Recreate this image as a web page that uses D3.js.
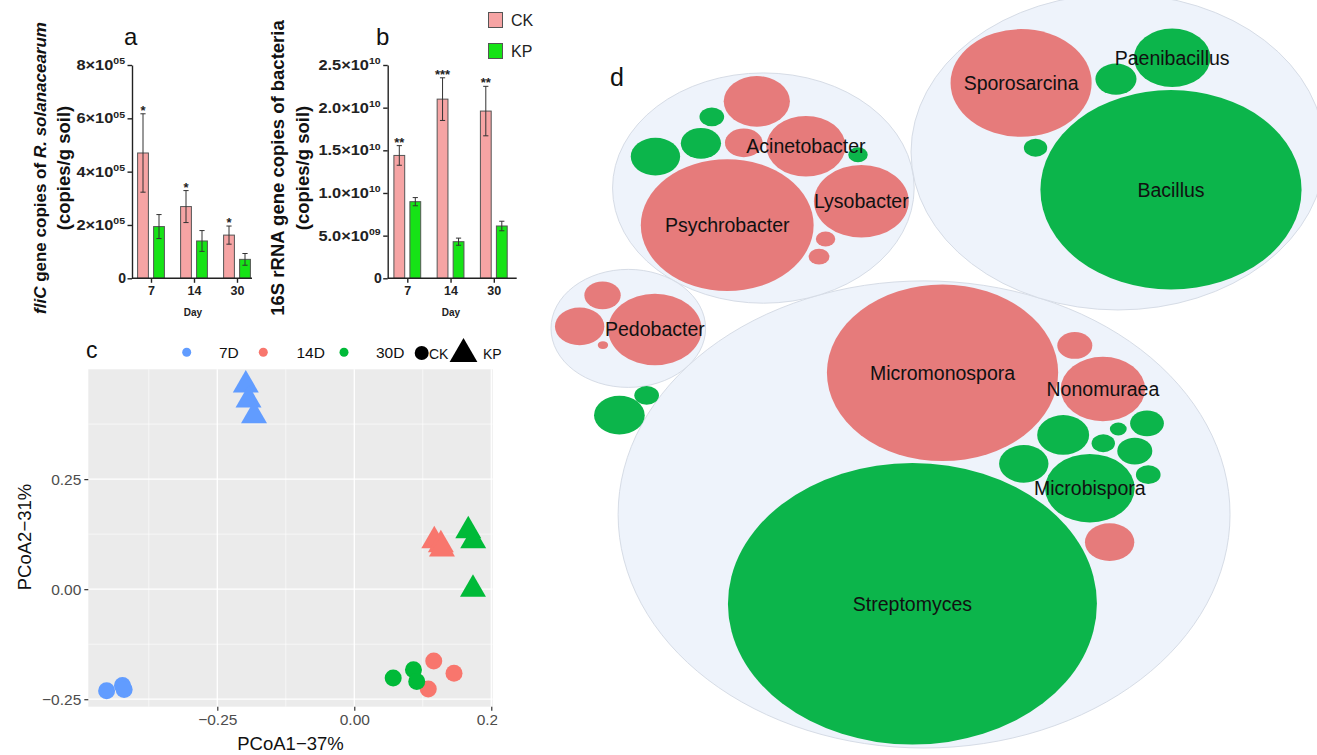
<!DOCTYPE html>
<html>
<head>
<meta charset="utf-8">
<script src="https://cdn.jsdelivr.net/npm/d3@7"></script>
<style>
  body { margin: 0; background: #ffffff; }
  svg { display: block; font-family: "Liberation Sans", Arial, Helvetica, sans-serif; }
</style>
</head>
<body>
<svg id="fig" width="1317" height="755"></svg>
<script>
// ================= data =================
const days = ["7", "14", "30"];

// (a) fliC gene copies of R. solanacearum (copies / g soil)
const fliCCK = [4.70e5, 2.69e5, 1.62e5];
const fliCCKErr = [1.47e5, 0.60e5, 0.34e5];
const fliCKP = [1.94e5, 1.40e5, 0.71e5];
const fliCKPErr = [0.45e5, 0.39e5, 0.22e5];
const fliCSig = ["*", "*", "*"];
const fliCTicks = [0, 2e5, 4e5, 6e5, 8e5];

// (b) 16S rRNA gene copies of bacteria (copies / g soil)
const rrnCK = [1.44e10, 2.10e10, 1.96e10];
const rrnCKErr = [0.115e10, 0.25e10, 0.29e10];
const rrnKP = [0.898e10, 0.429e10, 0.613e10];
const rrnKPErr = [0.048e10, 0.042e10, 0.056e10];
const rrnSig = ["**", "***", "**"];
const rrnTicks = [0, 5e9, 1e10, 1.5e10, 2e10, 2.5e10];

// (c) PCoA of community composition
const pcoaDay = ["7D","7D","7D","7D","7D","7D","14D","14D","14D","14D","14D","14D","30D","30D","30D","30D","30D","30D"];
const pcoaTreat = ["CK","CK","CK","KP","KP","KP","CK","CK","CK","KP","KP","KP","CK","CK","CK","KP","KP","KP"];
const pcoa1 = [-0.452, -0.423, -0.420, -0.198, -0.193, -0.183, 0.145, 0.182, 0.135, 0.146, 0.158, 0.160, 0.071, 0.108, 0.114, 0.208, 0.217, 0.2166];
const pcoa2 = [-0.231, -0.219, -0.228, 0.464, 0.430, 0.394, -0.163, -0.191, -0.227, 0.110, 0.101, 0.091, -0.202, -0.183, -0.210, 0.1325, 0.110, 0.000];
const pcoaTicks = [-0.25, 0, 0.25];

// (d) genera enriched in CK or KP, grouped by phylum (abundance -> bubble area)
const phyla = ["Actinobacteria", "Proteobacteria", "Firmicutes", "Bacteroidetes", "Other 1", "Other 2"];
const actinoGenus = ["", "", "Micromonospora", "Microbispora", "", "Streptomyces", "Nonomuraea", "", "", "", "", "", ""];
const actinoAbund = [4.00, 3.61, 79.21, 11.90, 0.81, 201.64, 10.56, 0.42, 1.82, 1.69, 0.90, 3.61, 1.82];
const actinoEnriched = ["KP","KP","CK","KP","KP","KP","CK","KP","KP","KP","KP","CK","CK"];
const proteoGenus = ["Psychrobacter", "Acinetobacter", "Lysobacter", "", "", "", "", "", "", "", ""];
const proteoAbund = [44.22, 9.30, 13.32, 2.10, 2.40, 0.56, 3.61, 6.50, 0.64, 0.90, 0.56];
const proteoEnriched = ["CK","CK","CK","CK","KP","CK","KP","CK","CK","KP","KP"];
const firmiGenus = ["", "Bacillus", "Sporosarcina", "Paenibacillus", ""];
const firmiAbund = [2.50, 101.00, 29.48, 8.70, 0.81];
const firmiEnriched = ["KP","KP","CK","KP","KP"];
const bacteroGenus = ["Pedobacter", "", "", ""];
const bacteroAbund = [12.96, 3.61, 1.96, 0.16];
const bacteroEnriched = ["CK","CK","CK","CK"];
const other1Genus = [""], other1Abund = [0.90], other1Enriched = ["KP"];
const other2Genus = [""], other2Abund = [3.80], other2Enriched = ["KP"];

// ================= styles / layout =================
const svg = d3.select("#fig");
const treatFill = { CK: "#f6a4a4", KP: "#16e316" };
const dayColor = d3.scaleOrdinal().domain(["7D", "14D", "30D"]).range(["#619CFF", "#F8766D", "#00BA38"]);
const bubbleFill = { CK: "#e67b7b", KP: "#0cb54b" };

function panelLetter(txt, x, y, size) {
  svg.append("text").attr("x", x).attr("y", y).attr("font-size", size).attr("fill", "#111").text(txt);
}

// ---------- bar panels (a, b) ----------
function barPanel(o) {
  const g = svg.append("g");
  const y = d3.scaleLinear().domain([0, o.max]).range([o.yBase, o.yTop]);
  const x = d3.scalePoint().domain(days).range(o.centers);
  const bw = 10.8, gap = 5.2, cap = 2.6;

  const series = [
    { key: "CK", v: o.ck, e: o.ckErr, off: -gap / 2 - bw },
    { key: "KP", v: o.kp, e: o.kpErr, off: gap / 2 }
  ];
  series.forEach(s => {
    g.selectAll(null).data(days).join("rect")
      .attr("x", d => x(d) + s.off)
      .attr("y", (d, i) => y(s.v[i]))
      .attr("width", bw)
      .attr("height", (d, i) => y(0) - y(s.v[i]))
      .attr("fill", treatFill[s.key])
      .attr("stroke", "#555").attr("stroke-width", 1);
    const eb = g.selectAll(null).data(days).join("g").attr("stroke", "#333").attr("stroke-width", 1);
    eb.append("line")
      .attr("x1", d => x(d) + s.off + bw / 2).attr("x2", d => x(d) + s.off + bw / 2)
      .attr("y1", (d, i) => y(s.v[i] + s.e[i])).attr("y2", (d, i) => y(s.v[i] - s.e[i]));
    [1, -1].forEach(sign => {
      eb.append("line")
        .attr("x1", d => x(d) + s.off + bw / 2 - cap).attr("x2", d => x(d) + s.off + bw / 2 + cap)
        .attr("y1", (d, i) => y(s.v[i] + sign * s.e[i]))
        .attr("y2", (d, i) => y(s.v[i] + sign * s.e[i]));
    });
  });
  // significance marks over CK
  g.selectAll(null).data(days).join("text")
    .attr("x", d => x(d) - gap / 2 - bw / 2)
    .attr("y", (d, i) => y(o.ck[i] + o.ckErr[i]) + 1)
    .attr("text-anchor", "middle").attr("font-size", 13).attr("font-weight", "bold").attr("fill", "#222")
    .text((d, i) => o.sig[i]);

  // y axis
  const ya = g.append("g").attr("transform", `translate(${o.axisX},0)`)
    .call(d3.axisLeft(y).tickValues(o.ticks).tickSize(4.5).tickSizeOuter(0).tickPadding(1.5));
  ya.select(".domain").attr("stroke", "#222").attr("stroke-width", 1.4);
  ya.selectAll(".tick line").attr("stroke", "#222").attr("stroke-width", 1.4);
  ya.selectAll(".tick text").each(function (d) {
    const t = d3.select(this).text(null)
      .attr("font-family", null).attr("font-size", 14).attr("font-weight", "bold").attr("fill", "#222");
    if (d === 0) { t.text("0"); return; }
    const e = Math.floor(Math.log10(d) + 1e-9);
    const m = d / Math.pow(10, e);
    t.attr("transform", "scale(1.17,1)");
    t.append("tspan").text(m.toFixed(o.digits) + "\u00d7" + "10");
    t.append("tspan").attr("font-size", 9).attr("dy", -5.5).text(String(e).padStart(2, "0"));
  });

  // x axis
  g.append("line").attr("x1", o.axisX).attr("x2", o.axisEnd).attr("y1", y(0)).attr("y2", y(0))
    .attr("stroke", "#222").attr("stroke-width", 1.4);
  const xa = g.append("g").attr("transform", `translate(0,${y(0)})`)
    .call(d3.axisBottom(x).tickSize(4.5).tickSizeOuter(0).tickPadding(3));
  xa.select(".domain").remove();
  xa.selectAll(".tick line").attr("stroke", "#222").attr("stroke-width", 1.4);
  xa.selectAll(".tick text").attr("font-family", null).attr("font-size", 12.5).attr("font-weight", "bold").attr("fill", "#222");

  g.append("text").attr("x", o.dayX).attr("y", 315.5).attr("text-anchor", "middle")
    .attr("font-size", 10).attr("font-weight", "bold").attr("fill", "#222").text("Day");

  // axis title (two lines)
  const t1 = g.append("text").attr("transform", `translate(${o.title1X},168) rotate(-90)`)
    .attr("text-anchor", "middle").attr("font-weight", "bold").attr("font-size", o.title1Size).attr("fill", "#111");
  o.title1.forEach(part => t1.append("tspan").attr("font-style", part[1] ? "italic" : null).text(part[0]));
  g.append("text").attr("transform", `translate(${o.title2X},168) rotate(-90)`)
    .attr("text-anchor", "middle").attr("font-weight", "bold").attr("font-size", 18.5).attr("fill", "#111")
    .text("(copies/g soil)");
}

barPanel({
  ck: fliCCK, ckErr: fliCCKErr, kp: fliCKP, kpErr: fliCKPErr, sig: fliCSig, ticks: fliCTicks,
  max: 8e5, digits: 0, yBase: 278.3, yTop: 65, centers: [151, 237], axisX: 132, axisEnd: 252, dayX: 193,
  title1: [["fliC", true], [" gene copies of ", false], ["R. solanacearum", true]], title1X: 46, title1Size: 17,
  title2X: 70
});
barPanel({
  ck: rrnCK, ckErr: rrnCKErr, kp: rrnKP, kpErr: rrnKPErr, sig: rrnSig, ticks: rrnTicks,
  max: 2.5e10, digits: 1, yBase: 278.3, yTop: 65, centers: [407.3, 493.8], axisX: 387.7, axisEnd: 516.7, dayX: 451,
  title1: [["16S rRNA gene copies of bacteria", false]], title1X: 284, title1Size: 18.5,
  title2X: 309
});
panelLetter("a", 124, 45, 24);
panelLetter("b", 376, 45, 24);

// legend for a/b
["CK", "KP"].forEach((k, i) => {
  svg.append("rect").attr("x", 488.5).attr("y", 12.5 + i * 31).attr("width", 14).attr("height", 15)
    .attr("fill", treatFill[k]).attr("stroke", "#555").attr("stroke-width", 1);
  svg.append("text").attr("x", 511).attr("y", 26 + i * 31).attr("font-size", 16).attr("fill", "#222").text(k);
});

// ---------- panel c: PCoA ----------
{
  const x0 = 88.3, x1 = 492.7, y0 = 369.3, y1 = 706.7;
  const x = d3.scaleLinear().domain([-0.4854, 0.2526]).range([x0, x1]);
  const y = d3.scaleLinear().domain([-0.267, 0.4995]).range([y1, y0]);
  const g = svg.append("g");
  g.append("rect").attr("x", x0).attr("y", y0).attr("width", x1 - x0).attr("height", y1 - y0).attr("fill", "#EBEBEB");
  const minorX = [-0.375, -0.125, 0.125], minorY = [-0.125, 0.125, 0.375];
  g.selectAll(null).data(minorX).join("line").attr("x1", x).attr("x2", x).attr("y1", y0).attr("y2", y1)
    .attr("stroke", "#fff").attr("stroke-width", 0.6);
  g.selectAll(null).data(minorY).join("line").attr("y1", y).attr("y2", y).attr("x1", x0).attr("x2", x1)
    .attr("stroke", "#fff").attr("stroke-width", 0.6);
  g.selectAll(null).data(pcoaTicks).join("line").attr("x1", x).attr("x2", x).attr("y1", y0).attr("y2", y1)
    .attr("stroke", "#fff").attr("stroke-width", 1.3);
  g.selectAll(null).data(pcoaTicks).join("line").attr("y1", y).attr("y2", y).attr("x1", x0).attr("x2", x1)
    .attr("stroke", "#fff").attr("stroke-width", 1.3);

  const pts = pcoa1.map((v, i) => ({ x: v, y: pcoa2[i], day: pcoaDay[i], treat: pcoaTreat[i] }));
  g.selectAll(null).data(pts).join("path")
    .attr("transform", d => `translate(${x(d.x)},${y(d.y)})`)
    .attr("d", d => d.treat === "CK" ? d3.symbol(d3.symbolCircle, Math.PI * 8.5 * 8.5)() : d3.symbol(d3.symbolTriangle, 292)())
    .attr("fill", d => dayColor(d.day));

  svg.append("defs").append("clipPath").attr("id", "clipC")
    .append("rect").attr("x", 0).attr("y", 330).attr("width", 497.5).attr("height", 425);
  const ya = svg.append("g").attr("transform", `translate(${x0},0)`)
    .call(d3.axisLeft(y).tickValues(pcoaTicks).tickSize(4).tickPadding(3).tickFormat(d3.format(".2f")));
  ya.select(".domain").remove();
  const xa = svg.append("g").attr("clip-path", "url(#clipC)")
    .append("g").attr("transform", `translate(0,${y1})`)
    .call(d3.axisBottom(x).tickValues(pcoaTicks).tickSize(4).tickPadding(3).tickFormat(d3.format(".2f")));
  xa.select(".domain").remove();
  [ya, xa].forEach(a => {
    a.selectAll(".tick line").attr("stroke", "#333").attr("stroke-width", 1.2);
    a.selectAll(".tick text").attr("font-family", null).attr("font-size", 15.5).attr("fill", "#4D4D4D");
  });

  svg.append("text").attr("x", (x0 + x1) / 2).attr("y", 750).attr("text-anchor", "middle")
    .attr("font-size", 18.5).attr("fill", "#111").text("PCoA1\u221237%");
  svg.append("text").attr("transform", `translate(31,537) rotate(-90)`).attr("text-anchor", "middle")
    .attr("font-size", 18.5).attr("fill", "#111").text("PCoA2\u221231%");

  // legend
  const lg = svg.append("g");
  const legendDays = ["7D", "14D", "30D"];
  const legendDotX = [186.7, 263.3, 344], legendTextX = [219, 296.5, 376];
  legendDays.forEach((d, i) => {
    lg.append("circle").attr("cx", legendDotX[i]).attr("cy", 352.3).attr("r", 4.5).attr("fill", dayColor(d));
    lg.append("text").attr("x", legendTextX[i]).attr("y", 358).attr("font-size", 15.5).attr("fill", "#111").text(d);
  });
  lg.append("circle").attr("cx", 421.7).attr("cy", 353).attr("r", 7).attr("fill", "#000");
  lg.append("text").attr("x", 429).attr("y", 359).attr("font-size", 14).attr("fill", "#111").text("CK");
  lg.append("path").attr("transform", "translate(463.5,354)").attr("d", d3.symbol(d3.symbolTriangle, 335)()).attr("fill", "#000");
  lg.append("text").attr("x", 483).attr("y", 359).attr("font-size", 14).attr("fill", "#111").text("KP");
  panelLetter("c", 86, 358, 23);
}

// ---------- panel d: circle packing of enriched genera ----------
{
  const genusSets = [actinoGenus, proteoGenus, firmiGenus, bacteroGenus, other1Genus, other2Genus];
  const abundSets = [actinoAbund, proteoAbund, firmiAbund, bacteroAbund, other1Abund, other2Abund];
  const enrichSets = [actinoEnriched, proteoEnriched, firmiEnriched, bacteroEnriched, other1Enriched, other2Enriched];

  // orientation of each packed group (degrees) and of the top level
  const rootTurn = -110.6;
  const groupTurn = [136.2, -52.7, 69.2, -177, 0, 0];
  const box = { left: 551, top: -6, bottom: 748 };
  const aspect = 1.31;

  const tree = {
    name: "all",
    children: phyla.map((p, i) => ({
      name: p,
      children: genusSets[i].map((gname, j) => ({ name: gname, value: abundSets[i][j], enriched: enrichSets[i][j] }))
    }))
  };
  const r = d3.scaleSqrt().domain([0, d3.max(abundSets.flat())]).range([0, 142]);
  const root = d3.hierarchy(tree).sum(d => d.value || 0);
  d3.pack().size([0, 0])
    .radius(d => r(d.data.value))
    .padding(d => (d.depth === 1 && d.children.length > 1) ? 3 : 0)(root);

  const rot = (dx, dy, deg) => {
    const a = deg * Math.PI / 180, c = Math.cos(a), s = Math.sin(a);
    return [dx * c - dy * s, dx * s + dy * c];
  };
  root.children.forEach((grp, i) => {
    const [gx, gy] = rot(grp.x - root.x, grp.y - root.y, rootTurn);
    grp.px = gx; grp.py = gy;
    grp.children.forEach(leaf => {
      const [lx, ly] = rot(leaf.x - grp.x, leaf.y - grp.y, groupTurn[i]);
      leaf.px = gx + lx; leaf.py = gy + ly;
    });
  });
  const minX = d3.min(root.children, d => d.px - d.r);
  const minY = d3.min(root.children, d => d.py - d.r);
  const maxY = d3.max(root.children, d => d.py + d.r);
  const sy = (box.bottom - box.top) / (maxY - minY), sx = sy * aspect;
  const X = v => box.left + (v - minX) * sx;
  const Y = v => box.top + (v - minY) * sy;

  const g = svg.append("g");
  g.selectAll(null).data(root.children.filter(d => d.children.length > 1)).join("ellipse")
    .attr("cx", d => X(d.px)).attr("cy", d => Y(d.py)).attr("rx", d => d.r * sx).attr("ry", d => d.r * sy)
    .attr("fill", "#EEF3FB").attr("stroke", "#D6DCE6").attr("stroke-width", 1);
  const leaves = root.leaves();
  g.selectAll(null).data(leaves).join("ellipse")
    .attr("cx", d => X(d.px)).attr("cy", d => Y(d.py)).attr("rx", d => d.r * sx).attr("ry", d => d.r * sy)
    .attr("fill", d => bubbleFill[d.data.enriched]);
  g.selectAll(null).data(leaves.filter(d => d.data.name)).join("text")
    .attr("x", d => X(d.px)).attr("y", d => Y(d.py)).attr("dy", "0.36em")
    .attr("text-anchor", "middle").attr("font-size", 19.5).attr("fill", "#111")
    .text(d => d.data.name);
  panelLetter("d", 610, 86, 25);
}
</script>
</body>
</html>
